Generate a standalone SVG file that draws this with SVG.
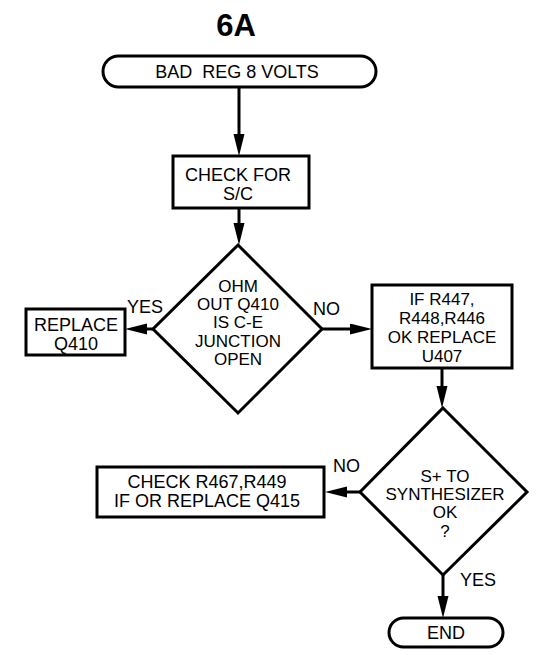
<svg xmlns="http://www.w3.org/2000/svg" width="538" height="655" viewBox="0 0 538 655">
<style>
  .shape { fill: #fff; stroke: #000; stroke-width: 3; }
  .conn { fill: none; stroke: #000; stroke-width: 3; }
  text { font-family: "Liberation Sans", Arial, sans-serif; font-size: 18px; fill: #000; text-anchor: middle; white-space: pre; }
  .lbl { text-anchor: start; }
  .dt { font-size: 17px; }
  .title { font-size: 31px; font-weight: bold; }
</style>
<defs>
  <marker id="arr" markerUnits="userSpaceOnUse" markerWidth="24" markerHeight="12" refX="12" refY="5.5" orient="auto">
    <path d="M0,0 L22,5.5 L0,11 z" fill="#000"/>
  </marker>
</defs>

<text class="title" x="236" y="36">6A</text>

<g id="connectors">
  <line class="conn" x1="239" y1="87" x2="239" y2="146" marker-end="url(#arr)"/>
  <line class="conn" x1="239" y1="208" x2="239" y2="235" marker-end="url(#arr)"/>
  <line class="conn" x1="153" y1="329" x2="135" y2="329" marker-end="url(#arr)"/>
  <line class="conn" x1="322" y1="329" x2="362" y2="329" marker-end="url(#arr)"/>
  <line class="conn" x1="442" y1="368" x2="442" y2="398" marker-end="url(#arr)"/>
  <line class="conn" x1="360" y1="492" x2="335" y2="492" marker-end="url(#arr)"/>
  <line class="conn" x1="443" y1="575" x2="443" y2="608" marker-end="url(#arr)"/>
  <text class="lbl" x="127" y="313">YES</text>
  <text class="lbl" x="313" y="315">NO</text>
  <text class="lbl" x="333" y="472">NO</text>
  <text class="lbl" x="460" y="586">YES</text>
</g>

<g id="start">
  <rect class="shape" x="103" y="56" width="273" height="31" rx="15.5" ry="15.5"/>
  <text x="237" y="78">BAD  REG 8 VOLTS</text>
</g>

<g id="check-sc">
  <rect class="shape" x="173" y="156" width="136" height="52"/>
  <text x="238" y="181">CHECK FOR</text>
  <text x="238" y="200">S/C</text>
</g>

<g id="ohm-out">
  <polygon class="shape" points="238,245 322,329 238,413 153,329"/>
  <text class="dt" x="238" y="292">OHM</text>
  <text class="dt" x="238" y="310">OUT Q410</text>
  <text class="dt" x="238" y="328">IS C-E</text>
  <text class="dt" x="238" y="347">JUNCTION</text>
  <text class="dt" x="238" y="365">OPEN</text>
</g>

<g id="replace-q410">
  <rect class="shape" x="26" y="309" width="99" height="46"/>
  <text x="76" y="331">REPLACE</text>
  <text x="76" y="350">Q410</text>
</g>

<g id="if-r447">
  <rect class="shape" x="372" y="285" width="140" height="83"/>
  <text class="dt" x="442" y="305">IF R447,</text>
  <text class="dt" x="442" y="324">R448,R446</text>
  <text class="dt" x="442" y="343">OK REPLACE</text>
  <text class="dt" x="442" y="362">U407</text>
</g>

<g id="synth-ok">
  <polygon class="shape" points="443,408 527,492 443,575 360,492"/>
  <text class="dt" x="445" y="482">S+ TO</text>
  <text class="dt" x="445" y="500">SYNTHESIZER</text>
  <text class="dt" x="445" y="518">OK</text>
  <text class="dt" x="445" y="537">?</text>
</g>

<g id="check-r467">
  <rect class="shape" x="97" y="467" width="227" height="50"/>
  <text x="207" y="488">CHECK R467,R449</text>
  <text x="207" y="507">IF OR REPLACE Q415</text>
</g>

<g id="end">
  <rect class="shape" x="389" y="618" width="114" height="29" rx="14.5" ry="14.5"/>
  <text x="446" y="639">END</text>
</g>
</svg>
